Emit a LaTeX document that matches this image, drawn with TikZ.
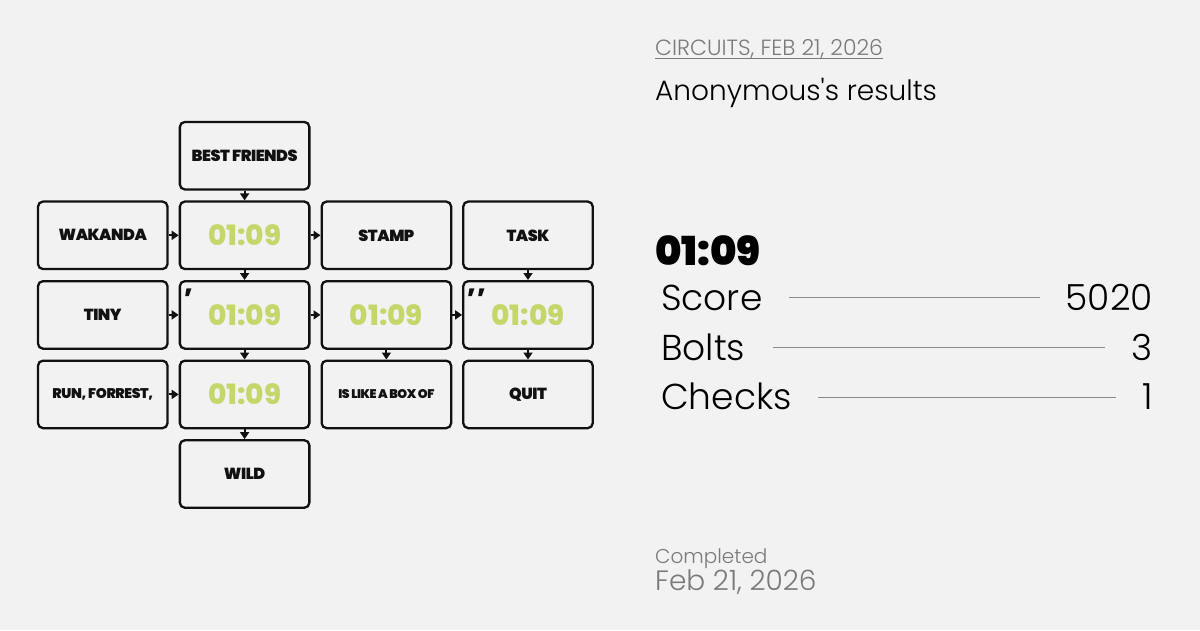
\documentclass[tikz,border=0pt]{standalone}
\usepackage{fontspec}
\setmainfont{Poppins}
\newfontfamily\plight{Poppins Light}
\newfontfamily\pxbold{Poppins ExtraBold}
\newfontfamily\pblack{Poppins Black}
\usetikzlibrary{arrows.meta}
\definecolor{bg}{HTML}{F2F2F2}
\definecolor{grn}{HTML}{C4D76B}
\definecolor{gry}{HTML}{7A7A7A}
\definecolor{ink}{HTML}{111111}
\definecolor{rule}{HTML}{8A8A8A}
\begin{document}
\begin{tikzpicture}[x=1pt,y=-1pt,
  box/.style={draw=ink, line width=2.3pt, rounded corners=5pt, minimum width=129.5pt, minimum height=67.5pt, inner sep=0pt, fill=bg, text=ink, font=\pblack\fontsize{16}{16}\selectfont\addfontfeatures{LetterSpace=-3}},
  tbox/.style={box, text=grn, font=\pxbold\fontsize{28}{28}\selectfont},
  arr/.style={draw=ink, line width=2pt, -{Triangle[length=7pt,width=9pt]}},
  punct/.style={inner sep=0pt, anchor=base west, text=ink, font=\pblack\fontsize{26}{26}\selectfont},
  lbl/.style={inner sep=0pt, anchor=base west, font=\plight\fontsize{36}{36}\selectfont, text=black},
  val/.style={inner sep=0pt, anchor=base east, font=\plight\fontsize{36}{36}\selectfont, text=black},
  leader/.style={draw=rule, line width=1pt}]
\fill[bg] (0,0) rectangle (1200,630);
\useasboundingbox (0,0) rectangle (1200,630);
% grid
\node[box] (bf) at (244.6,155.7) {BEST FRIENDS};
\node[box] (wak) at (102.75,235.3) {WAKANDA};
\node[tbox] (t11) at (244.6,235.3) {01:09};
\node[box] (stamp) at (386.4,235.3) {STAMP};
\node[box] (task) at (528,235.3) {TASK};
\node[box] (tiny) at (102.75,314.9) {TINY};
\node[tbox] (t22) at (244.6,314.9) {01:09};
\node[tbox] (t23) at (386.4,314.9) {01:09};
\node[tbox] (t24) at (528,314.9) {01:09};
\node[box, font=\pblack\fontsize{14}{14}\selectfont\addfontfeatures{LetterSpace=-3}] (run) at (102.75,394.4) {RUN, FORREST,};
\node[tbox] (t32) at (244.6,394.4) {01:09};
\node[box, font=\pblack\fontsize{12.5}{12.5}\selectfont\addfontfeatures{LetterSpace=-4}] (boxof) at (386.4,394.4) {IS LIKE A BOX OF};
\node[box] (quit) at (528,394.4) {QUIT};
\node[box] (wild) at (244.6,474) {WILD};
% punctuation marks
\node[punct] (m1) at (184,293) {,};
\node[punct] (m2) at (467,293) {,\kern1pt,};
% arrows
\draw[arr] (bf) -- (t11);
\draw[arr] (wak) -- (t11);
\draw[arr] (t11) -- (stamp);
\draw[arr] (t11) -- (t22);
\draw[arr] (tiny) -- (t22);
\draw[arr] (t22) -- (t23);
\draw[arr] (t23) -- (t24);
\draw[arr] (task) -- (t24);
\draw[arr] (t22) -- (t32);
\draw[arr] (run) -- (t32);
\draw[arr] (t32) -- (wild);
\draw[arr] (t23) -- (boxof);
\draw[arr] (t24) -- (quit);
% right panel
\node[inner sep=0pt, anchor=base west, text=gry, font=\plight\fontsize{22}{22}\selectfont] (hdr) at (655,55) {CIRCUITS, FEB 21, 2026};
\draw[draw=gry, line width=1.5pt] ([yshift=-3.5pt]hdr.base west) -- ([yshift=-3.5pt]hdr.base east);
\node[inner sep=0pt, anchor=base west, text=black, font=\plight\fontsize{28}{28}\selectfont] (who) at (655,100) {Anonymous's results};
\node[inner sep=0pt, anchor=base west, text=black, font=\pblack\fontsize{40}{40}\selectfont] (time) at (655,265) {01:09};
\node[lbl] (sc) at (661,310) {Score};
\node[val] (scv) at (1153,310) {5020};
\node[lbl] (bo) at (661,360) {Bolts};
\node[val] (bov) at (1153,360) {3};
\node[lbl] (ch) at (661,409) {Checks};
\node[val] (chv) at (1153,409) {1};
\coordinate (s1) at (789,297); \coordinate (s2) at (1040,297);
\coordinate (b1) at (773,347); \coordinate (b2) at (1105,347);
\coordinate (c1) at (818,397); \coordinate (c2) at (1116,397);
\draw[leader] (s1) -- (s2);
\draw[leader] (b1) -- (b2);
\draw[leader] (c1) -- (c2);
\node[inner sep=0pt, anchor=base west, text=gry, font=\plight\fontsize{20}{20}\selectfont] (comp) at (655,563) {Completed};
\node[inner sep=0pt, anchor=base west, text=gry, font=\plight\fontsize{28}{28}\selectfont] (date) at (655,590) {Feb 21, 2026};
\end{tikzpicture}
\end{document}
